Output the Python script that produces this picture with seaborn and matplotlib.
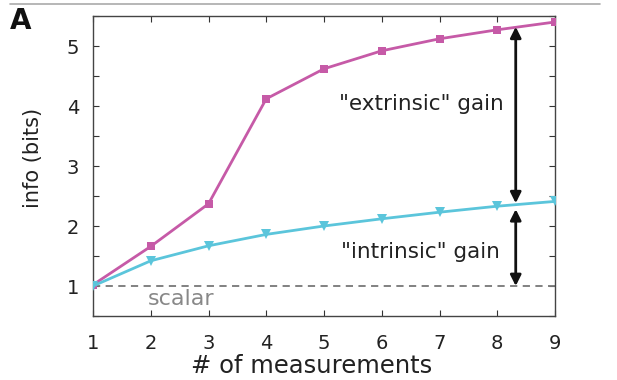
import matplotlib
matplotlib.use("Agg")
import matplotlib.pyplot as plt
import seaborn as sns
import pandas as pd
import numpy as np

n_meas = [1, 2, 3, 4, 5, 6, 7, 8, 9]
extrinsic = [1.02, 1.66, 2.37, 4.12, 4.62, 4.92, 5.12, 5.27, 5.40]
intrinsic = [1.00, 1.42, 1.67, 1.86, 2.00, 2.12, 2.23, 2.33, 2.41]
scalar_level = 1.0
x_ticks = [1, 2, 3, 4, 5, 6, 7, 8, 9]
y_ticks = [1, 2, 3, 4, 5]

sns.set_theme(style="white")
plt.rcParams['font.family'] = ['DejaVu Sans']

magenta = "#C65AA7"
cyan = "#5BC5DB"
txt = "#222222"

fig = plt.figure(figsize=(6.17, 3.8), dpi=100)
ax = fig.add_axes([93/617, 1 - 316/380, (555-93)/617, (316-16)/380])

df = pd.DataFrame({"n": n_meas + n_meas,
                   "info": extrinsic + intrinsic,
                   "kind": ["ext"] * 9 + ["int"] * 9})

ax.axhline(scalar_level, color="#777777", ls=(0, (4, 3)), lw=1.3, zorder=1)
sns.lineplot(data=df[df.kind == "ext"], x="n", y="info", ax=ax, color=magenta,
             marker="s", markersize=5.5, markeredgewidth=0, lw=2.0, zorder=3)
sns.lineplot(data=df[df.kind == "int"], x="n", y="info", ax=ax, color=cyan,
             marker="v", markersize=7.5, markeredgewidth=0, lw=2.0, zorder=3)

ax.set_xlim(1, 9)
ax.set_ylim(0.5, 5.5)
ax.set_xticks(x_ticks)
yt = np.arange(0.5, 5.51, 0.5)
ax.set_yticks(yt)
ax.set_yticklabels([str(int(v)) if v in y_ticks else "" for v in yt])
ax.tick_params(direction="in", length=4, width=0.8, colors="#333333",
               labelcolor=txt, labelsize=14, top=True, right=True,
               left=True, bottom=True)
ax.tick_params(axis="y", pad=10)
ax.tick_params(axis="x", pad=13)
for s in ax.spines.values():
    s.set_color("#444444")
    s.set_linewidth(1.0)

ax.set_xlabel("# of measurements", fontsize=17.5, color=txt)
ax.set_ylabel("info (bits)", fontsize=15, color=txt)
ax.xaxis.set_label_coords((312 - 93) / 462, -(366 - 316) / 300)
ax.yaxis.set_label_coords(-(93 - 33) / 462, (316 - 158) / 300)
ax.xaxis.label.set_va("center")
ax.yaxis.label.set_va("center")

# arrows
arr_x = 8.32
ax.annotate("", xy=(arr_x, intrinsic[-2] + 0.05), xytext=(arr_x, extrinsic[-1] - 0.08),
            arrowprops=dict(arrowstyle="<|-|>", color="#111111", lw=2.0,
                            mutation_scale=16, shrinkA=0, shrinkB=0))
ax.annotate("", xy=(arr_x, scalar_level), xytext=(arr_x, intrinsic[-2] - 0.05),
            arrowprops=dict(arrowstyle="<|-|>", color="#111111", lw=2.0,
                            mutation_scale=16, shrinkA=0, shrinkB=0))

ax.text(6.68, 4.03, '"extrinsic" gain', ha="center", va="center", fontsize=15.5, color=txt)
ax.text(6.67, 1.57, '"intrinsic" gain', ha="center", va="center", fontsize=15.5, color=txt)
ax.text(1.95, 0.79, "scalar", ha="left", va="center", fontsize=16, color="#888888")

fig.text(10/617, 1 - 29/380, "A", fontsize=20, fontweight="bold", ha="left", va="baseline", color="#111111")
fig.add_artist(plt.Line2D([10/617, 600/617], [1 - 4/380, 1 - 4/380], color="#aaaaaa", lw=1.2))

fig.savefig("out.png", dpi=100)
